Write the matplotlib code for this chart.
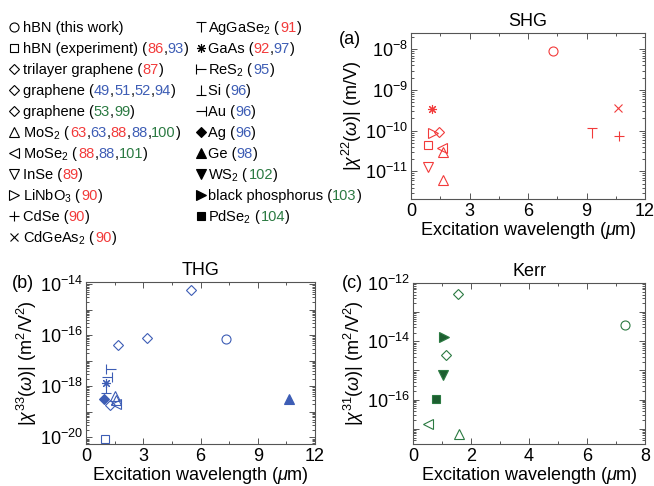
import numpy as np
import matplotlib
matplotlib.use('Agg')
import matplotlib.pyplot as plt
from matplotlib.path import Path
from matplotlib.ticker import LogLocator, FuncFormatter, MultipleLocator

plt.rcParams['font.family'] = ['Liberation Sans', 'DejaVu Sans']
plt.rcParams['mathtext.fontset'] = 'custom'
plt.rcParams['mathtext.rm'] = 'Liberation Sans'
plt.rcParams['mathtext.it'] = 'Liberation Sans:italic'
plt.rcParams['mathtext.bf'] = 'Liberation Sans:bold'

RED = '#f23a3a'
BLUE = '#3d5db5'
GREEN = '#2b7a42'
DARK_GREEN = '#1d5e30'

# ---- SHG, |chi(2)| in m/V ----
shg_material = ['hbn', 'gaas', 'cdgeas2', 'aggase2', 'cdse', 'linbo3', 'trilayer',
                'hbn_exp', 'mose2', 'mos2', 'inse', 'mos2']
shg_wavelength = [7.3, 1.1, 10.6, 9.3, 10.65, 1.15, 1.42, 0.87, 1.6, 1.62, 0.86, 1.62]
shg_chi = [9e-9, 3.4e-10, 3.7e-10, 9e-11, 7.4e-11, 8.7e-11, 9.5e-11, 4.4e-11,
           3.8e-11, 3.0e-11, 1.28e-11, 6e-12]

# ---- THG, |chi(3)| in m^2/V^2 ----
thg_material = ['graphene', 'graphene', 'graphene', 'hbn', 'ge', 'hbn_exp', 'ag',
                'res2', 'au', 'gaas', 'si', 'mos2', 'mos2', 'mose2', 'graphene']
thg_wavelength = [5.5, 3.2, 1.66, 7.35, 10.65, 1.0, 0.95, 1.3, 1.12, 1.05, 1.05,
                  1.52, 1.55, 1.58, 1.28]
thg_chi = [5.6e-15, 8e-17, 4.2e-17, 6.9e-17, 3.1e-19, 8.5e-21, 3.2e-19,
           4.9e-18, 2.4e-18, 1.4e-18, 8.5e-19, 4.1e-19, 2.8e-19, 2.1e-19, 1.8e-19]

# ---- Kerr, |chi(3)| in m^2/V^2 ----
kerr_material = ['graphene', 'hbn', 'bp', 'graphene', 'ws2', 'pdse2', 'mose2', 'mos2']
kerr_wavelength = [1.56, 7.31, 1.06, 1.14, 1.04, 0.81, 0.51, 1.58]
kerr_chi = [4.1e-13, 3.5e-14, 1.4e-14, 3.3e-15, 6.8e-16, 1.08e-16, 1.5e-17, 6.8e-18]


def tee_path(kind):
    # half-plus style markers: T, |-, _|_, -|
    segs = {
        'top': [(-1, 1), (1, 1), (0, 1), (0, -1)],
        'left': [(-1, 1), (-1, -1), (-1, 0), (1, 0)],
        'bottom': [(-1, -1), (1, -1), (0, -1), (0, 1)],
        'right': [(1, 1), (1, -1), (1, 0), (-1, 0)],
    }[kind]
    codes = [Path.MOVETO, Path.LINETO, Path.MOVETO, Path.LINETO]
    return Path(segs, codes)


# marker, filled, size scale
MARKERS = {
    'hbn': ('o', False, 1.0),
    'hbn_exp': ('s', False, 0.95),
    'trilayer': ('D', False, 0.8),
    'graphene': ('D', False, 0.8),
    'mos2': ('^', False, 1.0),
    'mose2': ('<', False, 1.0),
    'inse': ('v', False, 1.0),
    'linbo3': ('>', False, 1.0),
    'cdse': ('+', False, 1.2),
    'cdgeas2': ('x', False, 0.9),
    'aggase2': (tee_path('top'), False, 1.0),
    'gaas': ((8, 2, 0), False, 1.0),
    'res2': (tee_path('left'), False, 1.0),
    'si': (tee_path('bottom'), False, 1.0),
    'au': (tee_path('right'), False, 1.0),
    'ag': ('D', True, 0.8),
    'ge': ('^', True, 1.0),
    'ws2': ('v', True, 1.0),
    'bp': ('>', True, 1.0),
    'pdse2': ('s', True, 0.9),
}

MS = 6.5


def draw_point(ax, key, x, y, color, fill_color=None):
    marker, filled, scale = MARKERS[key]
    ax.plot([x], [y], linestyle='none', marker=marker, markersize=MS * scale,
            markeredgecolor=color, markeredgewidth=0.8,
            markerfacecolor=(fill_color or color) if filled else 'none',
            clip_on=False)


fig = plt.figure(figsize=(6.54, 4.86), dpi=100)


def px_axes(left, top, right, bottom):
    W, H = 654.0, 486.0
    return fig.add_axes([left / W, 1 - bottom / H, (right - left) / W, (bottom - top) / H])


def style_axes(ax, label_every):
    ax.set_yscale('log')
    for sp in ax.spines.values():
        sp.set_color('#555555')
        sp.set_linewidth(0.8)
    ax.tick_params(which='both', direction='in', top=True, right=True,
                   color='#555555', labelsize=13, width=0.7)
    ax.tick_params(which='major', length=4)
    ax.tick_params(which='minor', length=2)
    ax.tick_params(axis='y', pad=2)
    ax.tick_params(axis='x', pad=3)
    ax.yaxis.set_major_locator(LogLocator(base=10, numticks=30))
    ax.yaxis.set_minor_locator(LogLocator(base=10, subs=np.arange(2, 10), numticks=100))

    def fmt(v, _):
        e = int(round(np.log10(v)))
        if e % label_every:
            return ''
        return r'$10^{%d}$' % e
    ax.yaxis.set_major_formatter(FuncFormatter(fmt))
    ax.yaxis.set_minor_formatter(FuncFormatter(lambda v, _: ''))
    ax.set_xlabel(r'Excitation wavelength ($\mu$m)', fontsize=13, labelpad=0)


# (a) SHG
ax_a = px_axes(411, 33, 645, 199)
style_axes(ax_a, 1)
for key, x, y in zip(shg_material, shg_wavelength, shg_chi):
    draw_point(ax_a, key, x, y, RED)
ax_a.set_xlim(0, 12)
ax_a.set_ylim(2.1e-12, 2.5e-8)
ax_a.xaxis.set_major_locator(MultipleLocator(3))
ax_a.xaxis.set_minor_locator(MultipleLocator(1.5))
ax_a.set_title('SHG', fontsize=13, pad=5)
ax_a.set_ylabel(r'$|\chi^{22}(\omega)|$ (m/V)', fontsize=13, labelpad=1)

# (b) THG
ax_b = px_axes(86, 282, 315, 444)
style_axes(ax_b, 2)
for key, x, y in zip(thg_material, thg_wavelength, thg_chi):
    draw_point(ax_b, key, x, y, BLUE)
ax_b.set_xlim(0, 12)
ax_b.set_ylim(5.5e-21, 1.2e-14)
ax_b.xaxis.set_major_locator(MultipleLocator(3))
ax_b.xaxis.set_minor_locator(MultipleLocator(1.5))
ax_b.set_title('THG', fontsize=13, pad=5)
ax_b.set_ylabel(r'$|\chi^{33}(\omega)|$ (m$^2$/V$^2$)', fontsize=13, labelpad=1)

# (c) Kerr
ax_c = px_axes(413, 283, 645, 444)
style_axes(ax_c, 2)
for key, x, y in zip(kerr_material, kerr_wavelength, kerr_chi):
    draw_point(ax_c, key, x, y, GREEN, DARK_GREEN)
ax_c.set_xlim(0, 8)
ax_c.set_ylim(3e-18, 1e-12)
ax_c.xaxis.set_major_locator(MultipleLocator(2))
ax_c.xaxis.set_minor_locator(MultipleLocator(1))
ax_c.set_title('Kerr', fontsize=13, pad=5)
ax_c.set_ylabel(r'$|\chi^{31}(\omega)|$ (m$^2$/V$^2$)', fontsize=13, labelpad=1)

fig.text(350 / 654, 1 - 39 / 486, '(a)', fontsize=13, ha='center', va='center')
fig.text(23 / 654, 1 - 283 / 486, '(b)', fontsize=13, ha='center', va='center')
fig.text(352 / 654, 1 - 283 / 486, '(c)', fontsize=13, ha='center', va='center')

# ---- material key with coloured reference numbers ----
R, B, G = RED, BLUE, GREEN
legend_col1 = [
    ('hbn', 'hBN (this work)', []),
    ('hbn_exp', 'hBN (experiment)', [('86', R), ('93', B)]),
    ('trilayer', 'trilayer graphene', [('87', R)]),
    ('graphene', 'graphene', [('49', B), ('51', B), ('52', B), ('94', B)]),
    ('graphene', 'graphene', [('53', G), ('99', G)]),
    ('mos2', 'MoS$_2$', [('63', R), ('63', B), ('88', R), ('88', B), ('100', G)]),
    ('mose2', 'MoSe$_2$', [('88', R), ('88', B), ('101', G)]),
    ('inse', 'InSe', [('89', R)]),
    ('linbo3', 'LiNbO$_3$', [('90', R)]),
    ('cdse', 'CdSe', [('90', R)]),
    ('cdgeas2', 'CdGeAs$_2$', [('90', R)]),
]
legend_col2 = [
    ('aggase2', 'AgGaSe$_2$', [('91', R)]),
    ('gaas', 'GaAs', [('92', R), ('97', B)]),
    ('res2', 'ReS$_2$', [('95', B)]),
    ('si', 'Si', [('96', B)]),
    ('au', 'Au', [('96', B)]),
    ('ag', 'Ag', [('96', B)]),
    ('ge', 'Ge', [('98', B)]),
    ('ws2', 'WS$_2$', [('102', G)]),
    ('bp', 'black phosphorus', [('103', G)]),
    ('pdse2', 'PdSe$_2$', [('104', G)]),
]

leg = fig.add_axes([0, 0, 1, 1], zorder=-1)
leg.set_xlim(0, 654)
leg.set_ylim(486, 0)
leg.axis('off')
renderer = fig.canvas.get_renderer()


def put(x, y, s, color='black'):
    t = leg.text(x, y, s, fontsize=10.5, color=color, va='baseline', ha='left')
    bb = t.get_window_extent(renderer=renderer)
    return leg.transData.inverted().transform((bb.x1, bb.y0))[0]


def draw_column(entries, x_mark, x_text):
    for i, (key, name, refs) in enumerate(entries):
        y = 27 + 21 * i
        draw_point(leg, key, x_mark, y, 'black')
        if not refs:
            put(x_text, y + 5, name)
            continue
        x = put(x_text, y + 5, name + ' (')
        for j, (num, col) in enumerate(refs):
            if j:
                x = put(x, y + 5, ',')
            x = put(x, y + 5, num, col)
        put(x, y + 5, ')')


draw_column(legend_col1, 14, 23)
draw_column(legend_col2, 201, 208)

fig.savefig('out.png', dpi=100)
